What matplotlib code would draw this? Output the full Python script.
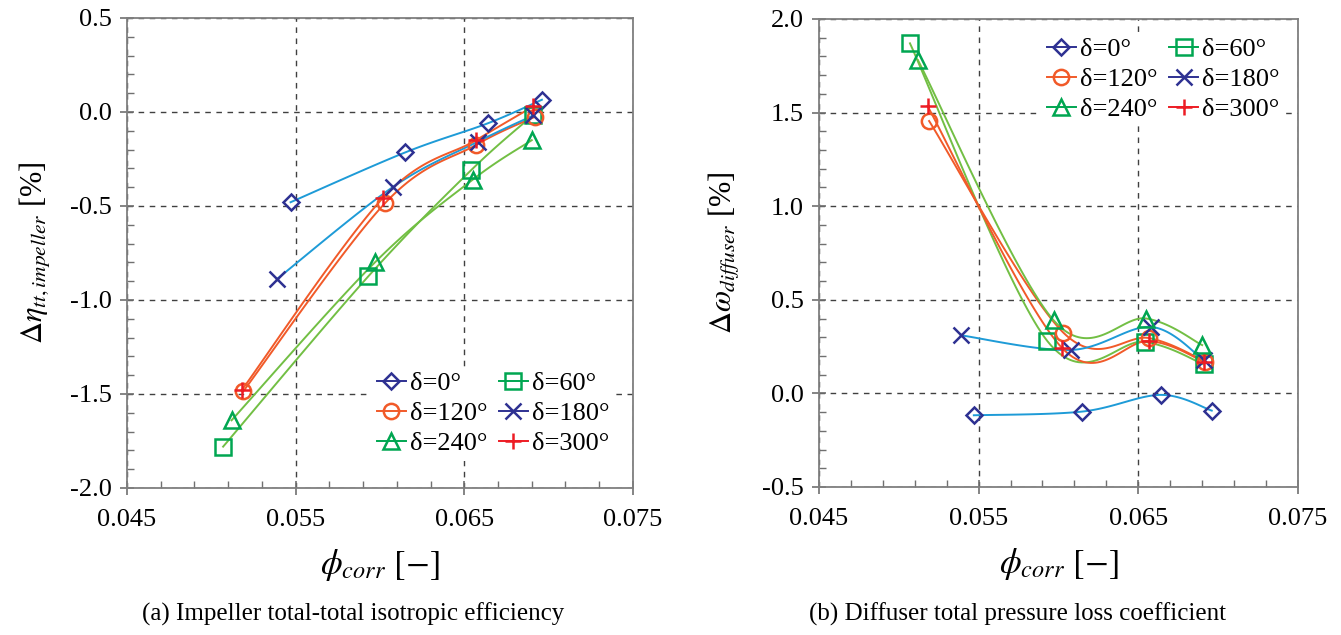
import numpy as np
import matplotlib
matplotlib.use("Agg")
import matplotlib.pyplot as plt
from matplotlib.lines import Line2D
from matplotlib.ticker import MultipleLocator, FormatStrFormatter

plt.rcParams['font.family'] = ['Liberation Serif', 'DejaVu Serif']
plt.rcParams['mathtext.fontset'] = 'stix'
plt.rcParams['axes.unicode_minus'] = False

# daten
labels = ['δ=0°', 'δ=60°', 'δ=120°', 'δ=180°', 'δ=240°', 'δ=300°']

phi_0 = [0.0547, 0.0615, 0.0664, 0.0696]
phi_60 = [0.0507, 0.0593, 0.0654, 0.0691]
phi_120 = [0.0519, 0.0603, 0.0657, 0.0692]
phi_180 = [0.0539, 0.0608, 0.0658, 0.0691]
phi_240 = [0.0512, 0.0597, 0.0655, 0.0690]
phi_300 = [0.0518, 0.0602, 0.0657, 0.0691]

eta_0 = [-0.48, -0.215, -0.06, 0.065]
eta_60 = [-1.78, -0.875, -0.31, -0.015]
eta_120 = [-1.485, -0.485, -0.175, -0.025]
eta_180 = [-0.888, -0.397, -0.158, -0.018]
eta_240 = [-1.64, -0.80, -0.36, -0.15]
eta_300 = [-1.48, -0.455, -0.15, 0.03]

omega_0 = [-0.117, -0.097, -0.008, -0.092]
omega_60 = [1.87, 0.28, 0.275, 0.155]
omega_120 = [1.455, 0.325, 0.295, 0.17]
omega_180 = [0.31, 0.232, 0.355, 0.178]
omega_240 = [1.78, 0.39, 0.40, 0.258]
omega_300 = [1.535, 0.245, 0.28, 0.17]

phis = [phi_0, phi_60, phi_120, phi_180, phi_240, phi_300]
etas = [eta_0, eta_60, eta_120, eta_180, eta_240, eta_300]
omegas = [omega_0, omega_60, omega_120, omega_180, omega_240, omega_300]

markers = ['D', 's', 'o', 'x', '^', '+']
msizes = [8.5, 11, 11, 11, 11, 12]
mcolors = ['#2e3192', '#00a651', '#f15a29', '#2e3192', '#00a651', '#ed1c24']
lcolors = ['#1e9bd7', '#72bf44', '#f15a29', '#1e9bd7', '#72bf44', '#f15a29']


def smooth(ax, xs, ys, n=40):
    # excel-artige glaettung (bezier, catmull-rom) in pixelkoordinaten
    pts = ax.transData.transform(np.column_stack([xs, ys]))
    out = [pts[0]]
    m = len(pts)
    t = np.linspace(0, 1, n)[1:, None]
    for i in range(m - 1):
        p0 = pts[max(i - 1, 0)]
        p1 = pts[i]
        p2 = pts[i + 1]
        p3 = pts[min(i + 2, m - 1)]
        c1 = p1 + (p2 - p0) / 6
        c2 = p2 - (p3 - p1) / 6
        seg = (1 - t)**3 * p1 + 3 * (1 - t)**2 * t * c1 + 3 * (1 - t) * t**2 * c2 + t**3 * p2
        out.extend(seg)
    return ax.transData.inverted().transform(np.array(out))


def style(ax, ylim):
    ax.set_xlim(0.045, 0.075)
    ax.set_ylim(*ylim)
    ax.xaxis.set_major_locator(MultipleLocator(0.01, offset=0.005))
    ax.xaxis.set_minor_locator(MultipleLocator(0.002, offset=0.001))
    ax.yaxis.set_major_locator(MultipleLocator(0.5))
    ax.yaxis.set_minor_locator(MultipleLocator(0.1))
    ax.xaxis.set_major_formatter(FormatStrFormatter('%.3f'))
    ax.yaxis.set_major_formatter(FormatStrFormatter('%.1f'))
    ax.tick_params(which='major', direction='inout', length=10, width=1.2, color='#707070',
                   labelsize=19, pad=6)
    ax.tick_params(which='minor', direction='in', length=5, width=1, color='#707070')
    ax.tick_params(axis='x', which='major', pad=10)
    for s in ax.spines.values():
        s.set_color('#7f7f7f')
        s.set_linewidth(1.3)
    ax.grid(True, which='major', color='#404040', linestyle=(0, (4, 4)), linewidth=1)
    ax.set_axisbelow(True)


fig = plt.figure(figsize=(13.41, 6.35), dpi=100)
ax1 = fig.add_axes([0.0947, 0.2315, 0.3773, 0.7402])
ax2 = fig.add_axes([0.6107, 0.2331, 0.3572, 0.737])
style(ax1, (-2.0, 0.5))
style(ax2, (-0.5, 2.0))

for ax, ydata in [(ax1, etas), (ax2, omegas)]:
    for i in range(6):
        sm = smooth(ax, phis[i], ydata[i])
        ax.plot(sm[:, 0], sm[:, 1], color=lcolors[i], lw=1.4, zorder=2)
    for i in range(6):
        ax.plot(phis[i], ydata[i], linestyle='none', marker=markers[i], ms=msizes[i],
                mec=mcolors[i], mfc='none', mew=1.8, zorder=3)

handles = [Line2D([], [], color=mcolors[i], lw=1.4, marker=markers[i], ms=msizes[i],
                  mfc='none', mec=mcolors[i], mew=1.8) for i in range(6)]
order = [0, 2, 4, 1, 3, 5]
leg_kw = dict(ncol=2, frameon=True, fancybox=False, edgecolor='none', framealpha=1,
              fontsize=19, handlelength=1.1, handletextpad=0.15, columnspacing=0.45,
              labelspacing=0.25, borderpad=0.2)
ax1.legend([handles[i] for i in order], [labels[i] for i in order],
           loc='lower right', bbox_to_anchor=(0.99, 0.03), **leg_kw)
ax2.legend([handles[i] for i in order], [labels[i] for i in order],
           loc='upper right', bbox_to_anchor=(1.0, 1.0), **leg_kw)

ax1.set_ylabel(r'$\Delta\eta_{tt,impeller}$ [%]', fontsize=22, labelpad=12)
ax2.set_ylabel(r'$\Delta\omega_{diffuser}$ [%]', fontsize=22, labelpad=14)
ax1.set_xlabel(r'$\phi_{corr}$ $[-]$', fontsize=25, labelpad=12)
ax2.set_xlabel(r'$\phi_{corr}$ $[-]$', fontsize=25, labelpad=12)

fig.text(0.263, 0.022, '(a) Impeller total-total isotropic efficiency', ha='center', fontsize=18)
fig.text(0.759, 0.022, '(b) Diffuser total pressure loss coefficient', ha='center', fontsize=18)

fig.savefig('out.png', dpi=100)
